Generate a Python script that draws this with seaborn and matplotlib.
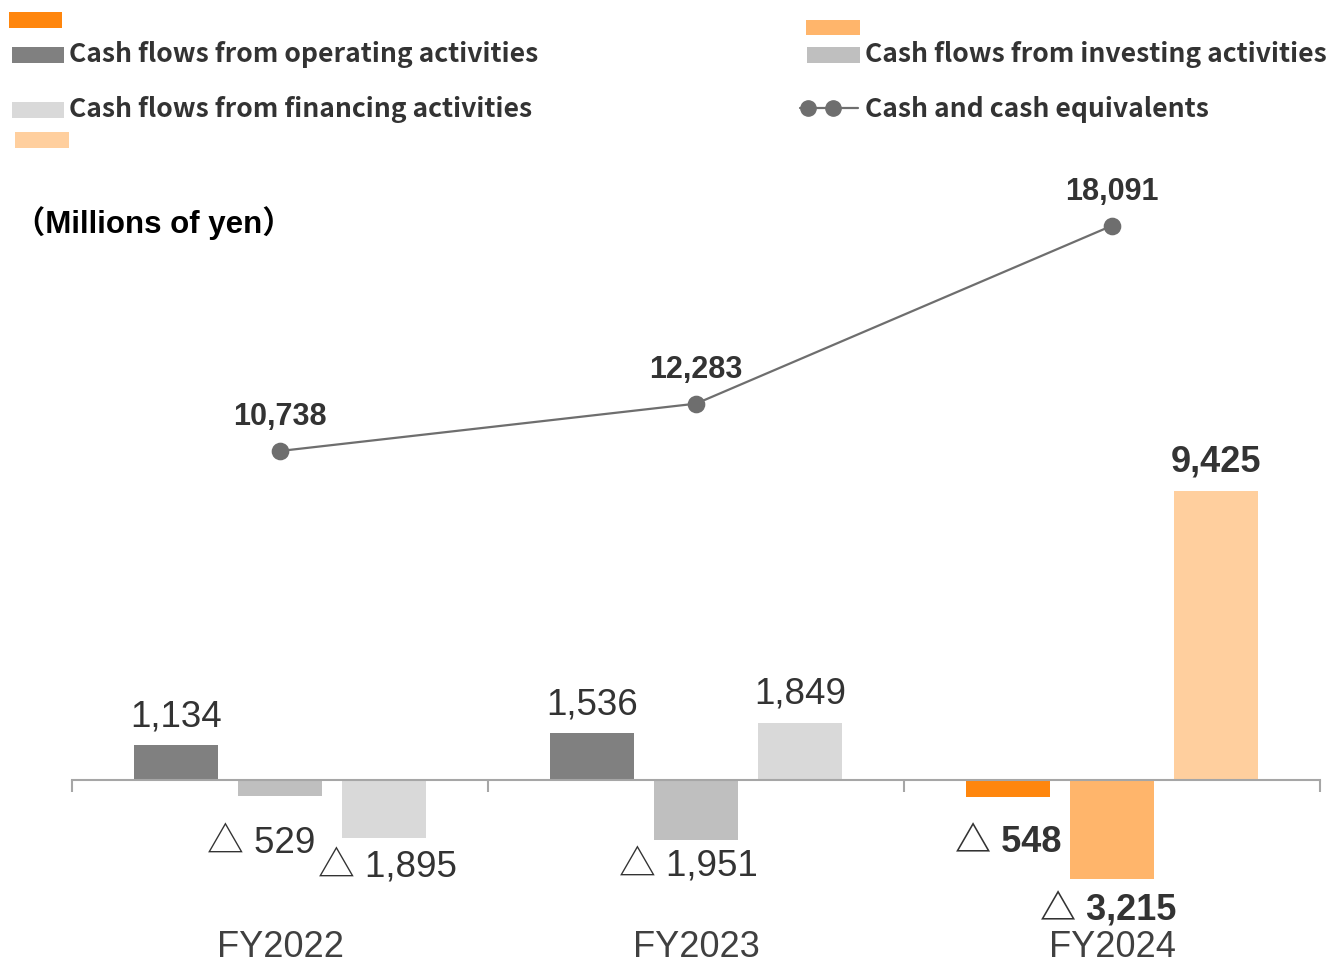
import matplotlib
matplotlib.use("Agg")
import matplotlib.pyplot as plt
import matplotlib.transforms as mtransforms
from matplotlib.patches import Rectangle
from matplotlib.lines import Line2D
import seaborn as sns
import pandas as pd

# ---- data (millions of yen) ----
years = ["FY2022", "FY2023", "FY2024"]
flows = [
    "Cash flows from operating activities",
    "Cash flows from investing activities",
    "Cash flows from financing activities",
]
operating = [1134, 1536, -548]
investing = [-529, -1951, -3215]
financing = [-1895, 1849, 9425]
cash_equivalents = [10738, 12283, 18091]
unit_label = "（Millions of yen）"
cash_label = "Cash and cash equivalents"

# ---- styling ----
W, H = 1329, 966
gray_palette = ["#808080", "#BFBFBF", "#D9D9D9"]
orange_palette = ["#FF860D", "#FFB56B", "#FFCF9E"]
line_color = "#6E6E6E"
axis_color = "#A6A6A6"
text_color = "#333333"

sns.set_theme(style="white")
plt.rcParams["font.family"] = ["Liberation Sans", "Noto Sans CJK JP", "DejaVu Sans"]

fig = plt.figure(figsize=(W / 100, H / 100), dpi=100)
ax = fig.add_axes([72 / W, 0, 1248 / W, 1])

df = pd.DataFrame({
    "year": years * 3,
    "flow": [f for f in flows for _ in years],
    "value": operating + investing + financing,
})

sns.barplot(data=df, x="year", y="value", hue="flow", order=years, hue_order=flows,
            palette=gray_palette, width=0.75, gap=0.2, saturation=1, linewidth=0,
            errorbar=None, legend=False, ax=ax)

# latest year is highlighted in orange tones
for i, cont in enumerate(ax.containers):
    cont[2].set_facecolor(orange_palette[i])

sns.pointplot(x=years, y=cash_equivalents, order=years, color=line_color,
              markers="o", markersize=11.5, linewidth=1.6, errorbar=None, ax=ax)

# ---- value labels on bars ----
label_offsets = {  # (dx, dy) in pixels, per flow then year
    0: [(0, 28), (0, 28), (0, -46)],
    1: [(-19, -47), (-8, -27), (-4, -32)],
    2: [(3, -30), (0, 29), (0, 29)],
}
series = [operating, investing, financing]
for i, cont in enumerate(ax.containers):
    for j, bar in enumerate(cont):
        v = series[i][j]
        x = bar.get_x() + bar.get_width() / 2
        txt = f"{v:,}" if v >= 0 else f"△ {abs(v):,}"
        latest = j == 2
        ax.annotate(txt, xy=(x, v), xytext=label_offsets[i][j], textcoords="offset pixels",
                    ha="center", va="center", color=text_color,
                    fontsize=26 if latest else 26.5,
                    fontweight="bold" if latest else "normal")

for j, v in enumerate(cash_equivalents):
    ax.annotate(f"{v:,}", xy=(j, v), xytext=(0, 34), textcoords="offset pixels",
                ha="center", va="center", color=text_color, fontsize=22, fontweight="bold")

# ---- category axis ----
ax.set_xlim(-0.5, 2.5)
ax.set_ylim(-6070, 25457)
for s in ["left", "right", "top"]:
    ax.spines[s].set_visible(False)
ax.spines["bottom"].set_position(("data", 0))
ax.spines["bottom"].set_color(axis_color)
ax.spines["bottom"].set_linewidth(1.5)
ax.set_xticks([-0.5, 0.5, 1.5, 2.5])
ax.set_xticklabels([])
ax.tick_params(axis="x", bottom=True, direction="out", length=8.6, width=1.5, color=axis_color)
ax.set_yticks([])
ax.set_xlabel("")
ax.set_ylabel("")

trans = mtransforms.blended_transform_factory(ax.transData, ax.transAxes)
for j, y in enumerate(years):
    ax.text(j, 9 / H, y, transform=trans, ha="center", va="baseline",
            fontsize=26, color="#404040")

# ---- unit caption ----
fig.text(14 / W, 1 - 223 / H, unit_label, ha="left", va="center",
         fontsize=22.5, fontweight="bold", color="black")

# ---- legend (figure pixel coordinates) ----
def add_rect(x0, y0, x1, y1, color):
    fig.add_artist(Rectangle((x0 / W, 1 - y1 / H), (x1 - x0) / W, (y1 - y0) / H,
                             transform=fig.transFigure, facecolor=color, edgecolor="none"))

add_rect(9, 12, 62, 28, orange_palette[0])
add_rect(12, 47, 64, 63, gray_palette[0])
add_rect(12, 102, 64, 118, gray_palette[2])
add_rect(15, 132, 69, 148, orange_palette[2])
add_rect(806, 20, 860, 35, orange_palette[1])
add_rect(807, 47, 860, 63, gray_palette[1])

fig.add_artist(Line2D([800 / W, 858 / W], [1 - 108 / H] * 2, transform=fig.transFigure,
                      color=line_color, linewidth=1.6))
fig.add_artist(Line2D([808 / W, 833 / W], [1 - 108 / H] * 2, transform=fig.transFigure,
                      color=line_color, linestyle="none", marker="o", markersize=11))

legend_font = dict(family=["Noto Sans CJK JP", "DejaVu Sans"], fontweight="bold",
                   fontsize=19.1, color=text_color, ha="left", va="baseline")
fig.text(69 / W, 1 - 62 / H, flows[0], **legend_font)
fig.text(69 / W, 1 - 117 / H, flows[2], **legend_font)
fig.text(865 / W, 1 - 62 / H, flows[1], **legend_font)
fig.text(865 / W, 1 - 117 / H, cash_label, **legend_font)

fig.savefig("out.png", dpi=100)
